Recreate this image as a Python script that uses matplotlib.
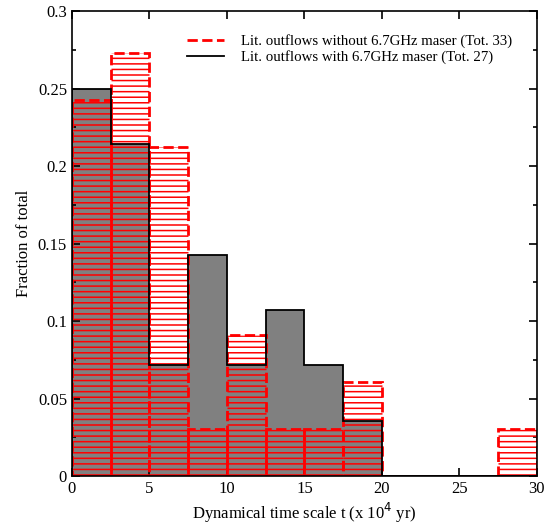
import numpy as np
import matplotlib
matplotlib.use('Agg')
from matplotlib import pyplot as plt
from matplotlib.ticker import MultipleLocator

plt.rcParams['font.family'] = ['Liberation Serif', 'DejaVu Serif']
plt.rcParams['hatch.color'] = 'red'
plt.rcParams['hatch.linewidth'] = 1.1

# bin edges (x 10^4 yr)
edges = np.arange(0, 30.01, 2.5)
# fractions, with 6.7GHz maser (Tot. 27)
with_maser = [7/28, 6/28, 2/28, 4/28, 2/28, 3/28, 2/28, 1/28, 0, 0, 0, 0]
# fractions, without 6.7GHz maser (Tot. 33)
without_maser = [8/33, 9/33, 7/33, 1/33, 3/33, 1/33, 1/33, 2/33, 0, 0, 0, 1/33]

fig = plt.figure(figsize=(5.49, 5.25), dpi=100)
ax = fig.add_axes([0.131, 0.093, 0.847, 0.886])

ax.stairs(with_maser, edges, fill=True, color='#808080', zorder=1)
ax.stairs(with_maser, edges, color='black', lw=1.3, zorder=3,
          label='Lit. outflows with 6.7GHz maser (Tot. 27)')

ax.bar(edges[:-1], without_maser, width=2.5, align='edge', fill=False,
       edgecolor='red', linestyle='--', linewidth=2, hatch='---', zorder=2)
ax.plot([], [], color='red', ls='--', lw=2,
        label='Lit. outflows without 6.7GHz maser (Tot. 33)')

ax.set_xlim(0, 30)
ax.set_ylim(0, 0.3)
ax.xaxis.set_major_locator(MultipleLocator(5))
ax.yaxis.set_minor_locator(MultipleLocator(0.025))
ax.set_yticks([0, 0.05, 0.1, 0.15, 0.2, 0.25, 0.3])
ax.set_yticklabels(['0', '0.05', '0.1', '0.15', '0.2', '0.25', '0.3'])
ax.tick_params(direction='in', top=True, right=True, which='both', labelsize=12)
ax.tick_params(which='major', length=6, width=1.2)
ax.tick_params(which='minor', length=3, width=1.2)
for s in ax.spines.values():
    s.set_linewidth(1.2)

ax.set_xlabel('Dynamical time scale t (x 10$^4$ yr)', fontsize=12, labelpad=3)
ax.set_ylabel('Fraction of total', fontsize=12)

h, l = ax.get_legend_handles_labels()
ax.legend(h[::-1], l[::-1], loc='upper right', frameon=False, fontsize=10.7,
          handlelength=2.5, handletextpad=1.1, labelspacing=0.15,
          bbox_to_anchor=(0.975, 0.979))

fig.savefig('out.png', dpi=100)
